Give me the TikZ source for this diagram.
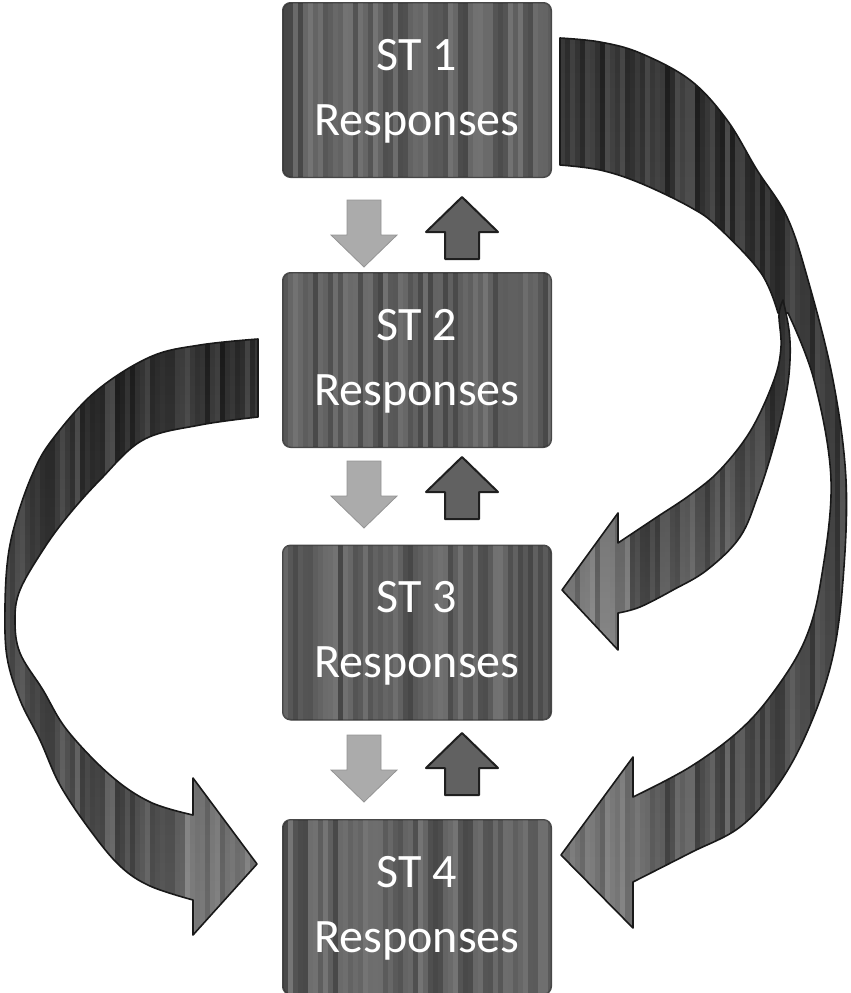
\documentclass[tikz,border=0pt]{standalone}
\usepackage{fontspec}
\setmainfont{Carlito}
\newcommand{\mystreaks}[5]{%
  \pgfmathsetseed{#5}%
  \foreach \k in {0,...,#2}{%
    \pgfmathrandominteger{\g}{35}{95}%
    \fill[black!\g, fill opacity=0.3] ({#1+5*\k},#3) rectangle ({#1+5*\k+5},#4);
  }}
\newcommand{\dnarrow}[2]{\draw[downarr] (#1-17,#2) -- ++(34,0) -- ++(0,35) -- ++(16,0) -- ++(-33,32) -- ++(-33,-32) -- ++(16,0) -- cycle;}
\newcommand{\uparrowshape}[2]{\draw[uparr] (#1,#2) -- ++(36,35) -- ++(-19,0) -- ++(0,27) -- ++(-34,0) -- ++(0,-27) -- ++(-19,0) -- cycle;}
\begin{document}
\begin{tikzpicture}[x=1pt,y=-1pt,
  box/.style={draw=black!72, line width=1pt, fill=black!62, rounded corners=8pt, minimum width=268pt, minimum height=174pt, inner sep=0pt},
  lbl/.style={text=white, align=center, font=\fontsize{48}{65}\selectfont, inner sep=0pt, yshift=-1pt},
  edge/.style={draw=black!90, line width=1.6pt, line join=round},
  downarr/.style={fill=black!33, draw=black!42, line width=0.8pt, line join=miter},
  uparr/.style={fill=black!62, draw=black!88, line width=2pt, line join=round}]
\useasboundingbox (0,0) rectangle (851,993);

% ---- boxes ----
\foreach \n/\cy/\s in {1/90/3, 2/360/5, 3/632.5/7, 4/907/9}{
  \node[box] (b\n) at (417,\cy) {};
  \begin{scope}
    \clip[rounded corners=8pt] (b\n.north west) rectangle (b\n.south east);
    \mystreaks{283}{54}{\cy-90}{\cy+90}{\s}
  \end{scope}
  \draw[black!72, line width=1pt, rounded corners=8pt] (b\n.north west) rectangle (b\n.south east);
  \node[lbl] (t\n) at (b\n) {ST \n\\Responses};
}

% ---- small arrows ----
\dnarrow{364}{200}
\uparrowshape{462}{197}
\dnarrow{364}{461}
\uparrowshape{462}{457}
\dnarrow{364}{735}
\uparrowshape{462}{733}

% ---- left big arrow: ST2 -> ST4 ----
\def\pathL{(258,339) -- plot[smooth, tension=0.6] coordinates {(258,339) (200,345) (150,357) (95,392) (52,440) (33,473) (17,517) (8,557) (5,607) (7,657) (20,700) (40,740) (60,785) (90,830) (120,866) (150,886) (193,900)} -- (193,935) -- (257,864) -- (193,778) -- (193,815) -- plot[smooth, tension=0.6] coordinates {(193,815) (150,802) (110,775) (67,730) (43,690) (20,653) (15,620) (20,590) (43,550) (67,517) (100,480) (143,440) (200,425) (258,417)} -- cycle}
\begin{scope}
  \clip \pathL;
  \shade[top color=black!88, bottom color=black!62] (0,330) rectangle (270,950);
  \mystreaks{0}{54}{330}{950}{11}
  \fill[white, opacity=0.18] (185,770) rectangle (265,945);
\end{scope}
\draw[edge] \pathL;

% ---- outer right arrow: ST1 -> ST4 ----
\def\pathO{plot[smooth, tension=0.6] coordinates {(560,38) (600,42) (640,53) (690,80) (727,120) (757,170) (787,217) (808,280) (833,380) (846,480) (843,580) (832,660) (808,730) (778,785) (740,827) (690,853) (633,882)} -- (633,928) -- (561,855) -- (633,757) -- (633,797) -- plot[smooth, tension=0.6] coordinates {(633,797) (690,767) (740,730) (775,690) (805,640) (821,580) (831,480) (814,380) (788,313)} -- plot[smooth, tension=0.6] coordinates {(778,313) (761,273) (718,227) (690,207) (640,183) (600,170) (560,165)} -- cycle}
\begin{scope}
  \clip \pathO;
  \shade[top color=black!88, bottom color=black!64] (550,30) rectangle (851,935);
  \mystreaks{555}{60}{30}{935}{23}
  \fill[white, opacity=0.16] (555,750) rectangle (645,935);
\end{scope}
\draw[edge] \pathO;

% ---- inner right arrow: ST1 -> ST3 ----
\def\pathI{plot[smooth, tension=0.6] coordinates {(783,300) (789,330) (790,360) (786,395) (774,445) (758,495) (740,537) (707,570) (673,590) (640,607) (618,613)} -- (618,650) -- (562,590) -- (618,513) -- (618,543) -- plot[smooth, tension=0.6] coordinates {(618,543) (657,517) (690,495) (720,470) (751,430) (774,380) (781,347) (779,315) (783,300)} -- cycle}
\begin{scope}
  \clip \pathI;
  \shade[top color=black!88, bottom color=black!60] (555,295) rectangle (800,655);
  \mystreaks{555}{50}{295}{655}{37}
  \fill[white, opacity=0.16] (555,505) rectangle (630,655);
\end{scope}
\draw[edge] \pathI;
\end{tikzpicture}
\end{document}
